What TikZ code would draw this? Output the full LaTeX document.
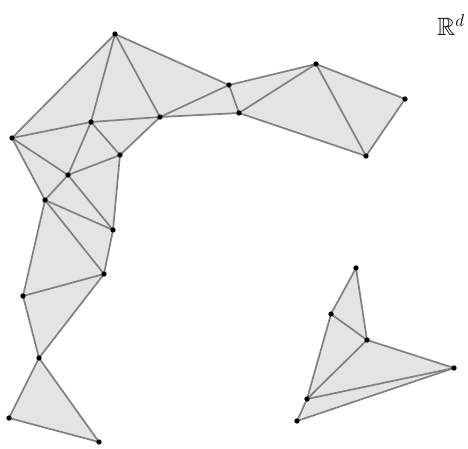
\documentclass[tikz,border=0pt]{standalone}
\usepackage{amssymb}
\begin{document}
\begin{tikzpicture}[x=1pt,y=-1pt,
  face/.style={fill=black!10.5,draw=none},
  edge/.style={draw=black!50,line width=1.7pt,line join=round,line cap=round},
  vtx/.style={circle,fill=black,inner sep=0pt,minimum size=5.3pt}]
\useasboundingbox (0,0) rectangle (468,448);
% vertices
\coordinate (A) at (115,34);
\coordinate (B) at (12,138);
\coordinate (C) at (91,122);
\coordinate (D) at (160,117);
\coordinate (E) at (229,85);
\coordinate (F) at (239,113);
\coordinate (G) at (120,155);
\coordinate (H) at (68,175);
\coordinate (I) at (45,200);
\coordinate (J) at (113,230);
\coordinate (K) at (316,64);
\coordinate (L) at (405,99);
\coordinate (M) at (366,156);
\coordinate (N) at (104,274);
\coordinate (O) at (23,296);
\coordinate (P) at (39,358);
\coordinate (Q) at (9,418);
\coordinate (R) at (99,442);
\coordinate (S) at (356,268);
\coordinate (T) at (331,314);
\coordinate (U) at (367,340);
\coordinate (V) at (454,368);
\coordinate (W) at (307,399);
\coordinate (X) at (297,421);
% faces
\foreach \a/\b/\c in {A/B/C,A/C/D,A/D/E,D/E/F,E/F/K,F/K/M,K/L/M,B/C/H,C/G/H,C/D/G,B/H/I,H/I/J,H/G/J,I/J/N,I/N/O,O/N/P,P/Q/R,S/T/U,T/U/W,U/W/V,W/V/X}
  \path[face] (\a) -- (\b) -- (\c) -- cycle;
% edges
\foreach \a/\b in {A/B,A/C,A/D,A/E,B/C,C/D,D/E,D/F,E/F,E/K,F/K,F/M,K/M,K/L,L/M,B/H,B/I,C/G,C/H,G/H,D/G,H/I,H/J,I/J,G/J,I/N,I/O,J/N,N/O,O/P,N/P,P/Q,P/R,Q/R,S/T,S/U,T/U,T/W,U/W,U/V,W/V,X/V,W/X}
  \draw[edge] (\a) -- (\b);
% dots
\foreach \v in {A,B,C,D,E,F,G,H,I,J,K,L,M,N,O,P,Q,R,S,T,U,V,W,X}
  \node[vtx] (d\v) at (\v) {};
\node[anchor=base west,inner sep=0pt,font=\fontsize{25}{28}\selectfont] (Rd) at (437,35.5) {$\mathbb{R}^d$};
\end{tikzpicture}
\end{document}
